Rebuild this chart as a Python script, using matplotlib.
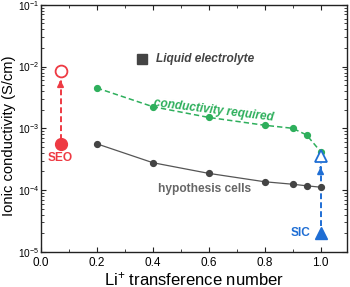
import matplotlib
matplotlib.use("Agg")
import matplotlib.pyplot as plt
from matplotlib.ticker import FixedLocator, LogLocator, NullFormatter, MultipleLocator

plt.rcParams['font.family'] = ['Liberation Sans', 'DejaVu Sans']
plt.rcParams['mathtext.fontset'] = 'custom'
plt.rcParams['mathtext.rm'] = 'Liberation Sans'
plt.rcParams['mathtext.it'] = 'Liberation Sans:italic'
plt.rcParams['mathtext.bf'] = 'Liberation Sans:bold'

# Data
t_num = [0.2, 0.4, 0.6, 0.8, 0.9, 0.95, 1.0]
hyp_cells = [5.6e-4, 2.77e-4, 1.86e-4, 1.36e-4, 1.24e-4, 1.17e-4, 1.11e-4]
required = [4.5e-3, 2.24e-3, 1.5e-3, 1.12e-3, 1.0e-3, 7.8e-4, 4.2e-4]
seo_x = 0.07
seo_before, seo_after = 5.6e-4, 8.6e-3
sic_x = 1.0
sic_before, sic_after = 2.0e-5, 3.5e-4
liquid_x, liquid_y = 0.36, 1.31e-2
x_ticks = [0.0, 0.2, 0.4, 0.6, 0.8, 1.0]
y_ticks = [1e-5, 1e-4, 1e-3, 1e-2, 1e-1]
y_tick_labels = [r'$\mathregular{10^{-5}}$', r'$\mathregular{10^{-4}}$', r'$\mathregular{10^{-3}}$',
                 r'$\mathregular{10^{-2}}$', r'$\mathregular{10^{-1}}$']

RED = '#ee3a43'
GREEN = '#2eaf5c'
BLUE = '#1f6ed4'
DARK = '#444444'
GRAY = '#666666'

fig = plt.figure(figsize=(3.5, 2.87), dpi=100)
ax = fig.add_axes([0.117, 0.123, 0.874, 0.860])
ax.set_yscale('log')
ax.set_xlim(0, 1.094)
ax.set_ylim(1e-5, 1e-1)

# lines
ax.plot(t_num, hyp_cells, '-', color='#555555', lw=0.9, marker='o', ms=4.2,
        mfc=DARK, mec=DARK, zorder=3)
ax.plot(t_num, required, '--', color=GREEN, lw=1.1, dashes=(3.5, 2), marker='o', ms=4.2,
        mfc=GREEN, mec=GREEN, zorder=3)

# SEO
ax.plot([seo_x, seo_x], [seo_before * 1.15, seo_after * 0.74], '--', color=RED, lw=1.4,
        dashes=(3, 1.6), zorder=2)
ax.annotate('', xy=(seo_x, seo_after * 0.70), xytext=(seo_x, seo_after * 0.58),
            arrowprops=dict(arrowstyle='-|>,head_length=0.35,head_width=0.18', color=RED, lw=1.4))
ax.plot([seo_x], [seo_before], 'o', ms=8.5, color=RED, zorder=4)
ax.plot([seo_x], [seo_after], 'o', ms=8.5, mfc='white', mec=RED, mew=1.3, zorder=4)
ax.text(seo_x, 3.3e-4, 'SEO', color=RED, fontsize=8.6, fontweight='bold', ha='center', va='center')

# SIC
ax.plot([sic_x, sic_x], [sic_before * 1.3, sic_after * 0.78], '--', color=BLUE, lw=1.4,
        dashes=(3, 1.6), zorder=2)
ax.annotate('', xy=(sic_x, sic_after * 0.74), xytext=(sic_x, sic_after * 0.6),
            arrowprops=dict(arrowstyle='-|>,head_length=0.35,head_width=0.18', color=BLUE, lw=1.4))
ax.plot([sic_x], [sic_before], '^', ms=8.5, color=BLUE, zorder=4)
ax.plot([sic_x], [sic_after], '^', ms=8.5, mfc='white', mec=BLUE, mew=1.3, zorder=5)
ax.text(0.93, 2.0e-5, 'SIC', color=BLUE, fontsize=8.6, fontweight='bold', ha='center', va='center')

# Liquid electrolyte
ax.plot([liquid_x], [liquid_y], 's', ms=7.7, color=DARK, zorder=4)
ax.text(0.41, liquid_y, 'Liquid electrolyte', color=DARK, fontsize=8.6, fontweight='bold',
        style='italic', ha='left', va='center')

ax.text(0.617, 1.95e-3, 'conductivity required', color=GREEN, fontsize=8.6, fontweight='bold',
        style='italic', ha='center', va='center', rotation=-7)
ax.text(0.585, 1.05e-4, 'hypothesis cells', color=GRAY, fontsize=8.6, fontweight='bold',
        ha='center', va='center')

# axes styling
ax.set_xticks(x_ticks)
ax.set_xticklabels([f'{v:.1f}' for v in x_ticks])
ax.xaxis.set_minor_locator(MultipleLocator(0.1))
ax.yaxis.set_major_locator(FixedLocator(y_ticks))
ax.set_yticklabels(y_tick_labels)
ax.yaxis.set_minor_locator(LogLocator(base=10, subs=range(2, 10), numticks=20))
ax.yaxis.set_minor_formatter(NullFormatter())
ax.tick_params(which='both', direction='in', top=True, right=True, color='#222222')
ax.tick_params(which='major', length=3.5, width=0.8, pad=1.5)
ax.tick_params(which='minor', length=2, width=0.6)
ax.tick_params(axis='x', labelsize=8.5, pad=3.5)
ax.tick_params(axis='y', labelsize=7.3, pad=1.2)
for s in ax.spines.values():
    s.set_linewidth(1.0)
    s.set_color('#222222')

ax.set_xlabel(r'Li$^{+}$ transference number', fontsize=12, labelpad=1)
ax.set_ylabel('Ionic conductivity (S/cm)', fontsize=10.6)
ax.yaxis.set_label_coords(-0.082, 0.47)

fig.savefig('out.png', dpi=100)
